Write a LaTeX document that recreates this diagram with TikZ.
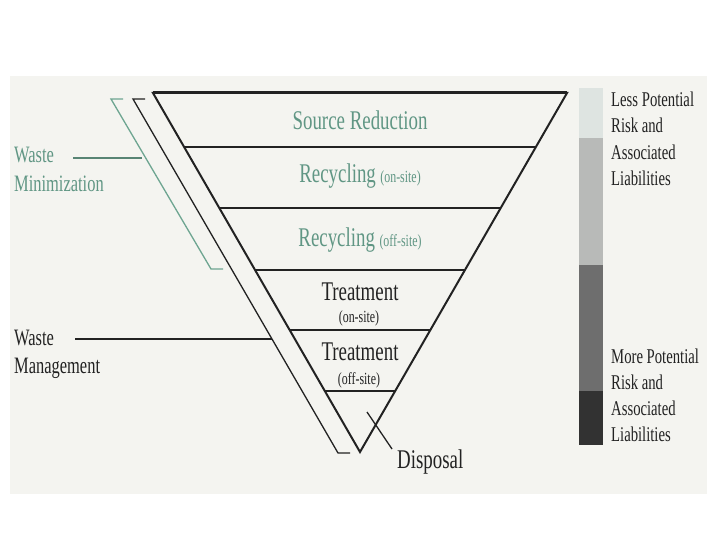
\documentclass[tikz,border=0pt]{standalone}
\usepackage{fontspec}
\setmainfont[FakeStretch=0.7]{Liberation Serif}
\definecolor{teal1}{RGB}{96,150,132}
\definecolor{tealline}{RGB}{110,165,145}
\definecolor{ink}{RGB}{34,34,34}
\definecolor{panel}{RGB}{244,244,240}
\definecolor{bar1}{RGB}{222,228,225}
\definecolor{bar2}{RGB}{184,186,184}
\definecolor{bar3}{RGB}{110,110,110}
\definecolor{bar4}{RGB}{50,50,50}
\tikzset{
  big/.style={font=\fontsize{27}{30}\selectfont, inner sep=0pt, anchor=base},
  small/.style={font=\fontsize{17}{20}\selectfont, inner sep=0pt, anchor=base},
  side/.style={font=\fontsize{23.5}{28}\selectfont, inner sep=0pt, anchor=base west},
  risk/.style={font=\fontsize{21}{26.5}\selectfont, inner sep=0pt, anchor=base west, text=ink},
  tier/.style={draw=ink, line width=1.6pt},
  bracket/.style={line width=1.3pt},
  leader/.style={line width=1.5pt}
}
\begin{document}
\begin{tikzpicture}[x=1pt,y=-1pt]
\useasboundingbox (0,0) rectangle (720,540);
\fill[panel] (10,76) rectangle (707,494);
% coordinates of the funnel
\coordinate (tl) at (153,93);
\coordinate (tr) at (567,93);
\coordinate (ap) at (360,452);
% tier lines
\foreach \yy [count=\i] in {147,208,270,330,391}{
  \pgfmathsetmacro{\xl}{153+(\yy-93)*0.5766}
  \pgfmathsetmacro{\xr}{567-(\yy-93)*0.5766}
  \coordinate (L\i) at (\xl,\yy);
  \coordinate (R\i) at (\xr,\yy);
  \draw[tier] (L\i) -- (R\i);
}
\draw[draw=ink, line width=2pt, line join=miter] (ap) -- (tl) -- (tr) -- cycle;
\draw[draw=ink, line width=3pt] (tl) -- (tr);
% texts in funnel
\node[big, text=teal1] (sr) at (360,130) {Source Reduction};
\node[big, text=teal1] (rc1) at (360,183) {Recycling\,{\fontsize{17}{20}\selectfont (on-site)}};
\node[big, text=teal1] (rc2) at (360,247) {Recycling\,{\fontsize{17}{20}\selectfont (off-site)}};
\node[big, text=ink] (tr1) at (360,300) {Treatment};
\node[small, text=ink] (tr1s) at (359,322) {(on-site)};
\node[big, text=ink] (tr2) at (360,360) {Treatment};
\node[small, text=ink] (tr2s) at (359,384) {(off-site)};
% disposal
\node[big, text=ink, anchor=base west] (disp) at (397,468) {Disposal};
\coordinate (d1) at (367,412);
\coordinate (d2) at (392,449);
\draw[draw=ink, line width=1.3pt] (d1) -- (d2);
% brackets
\coordinate (mt) at (123,99); \coordinate (mt2) at (111,99);
\coordinate (mb2) at (211,269); \coordinate (mb) at (223,269);
\draw[bracket, draw=tealline] (mt) -- (mt2) -- (mb2) -- (mb);
\coordinate (gt) at (145,99); \coordinate (gt2) at (133,99);
\coordinate (gb2) at (338,453); \coordinate (gb) at (350,453);
\draw[bracket, draw=ink] (gt) -- (gt2) -- (gb2) -- (gb);
% side labels
\node[side, text=teal1] (wm1) at (14,163) {Waste};
\node[side, text=teal1] (wm2) at (14,192) {Minimization};
\coordinate (wml) at (73,158); \coordinate (wmr) at (142,158);
\draw[leader, draw=tealline!80!black] (wml) -- (wmr);
\node[side, text=ink] (wg1) at (14,345) {Waste};
\node[side, text=ink] (wg2) at (14,373) {Management};
\coordinate (wgl) at (75,339); \coordinate (wgr) at (272,339);
\draw[leader, draw=ink] (wgl) -- (wgr);
% risk bar
\fill[bar1] (579,88) rectangle (603,138);
\fill[bar2] (579,138) rectangle (603,265);
\fill[bar3] (579,265) rectangle (603,391);
\fill[bar4] (579,391) rectangle (603,445);
\node[risk] (less1) at (611,107) {Less Potential};
\node[risk] (less2) at (611,133) {Risk and};
\node[risk] (less3) at (611,160) {Associated};
\node[risk] (less4) at (611,186) {Liabilities};
\node[risk] (more1) at (611,363) {More Potential};
\node[risk] (more2) at (611,389) {Risk and};
\node[risk] (more3) at (611,415) {Associated};
\node[risk] (more4) at (611,441) {Liabilities};
\end{tikzpicture}
\end{document}
